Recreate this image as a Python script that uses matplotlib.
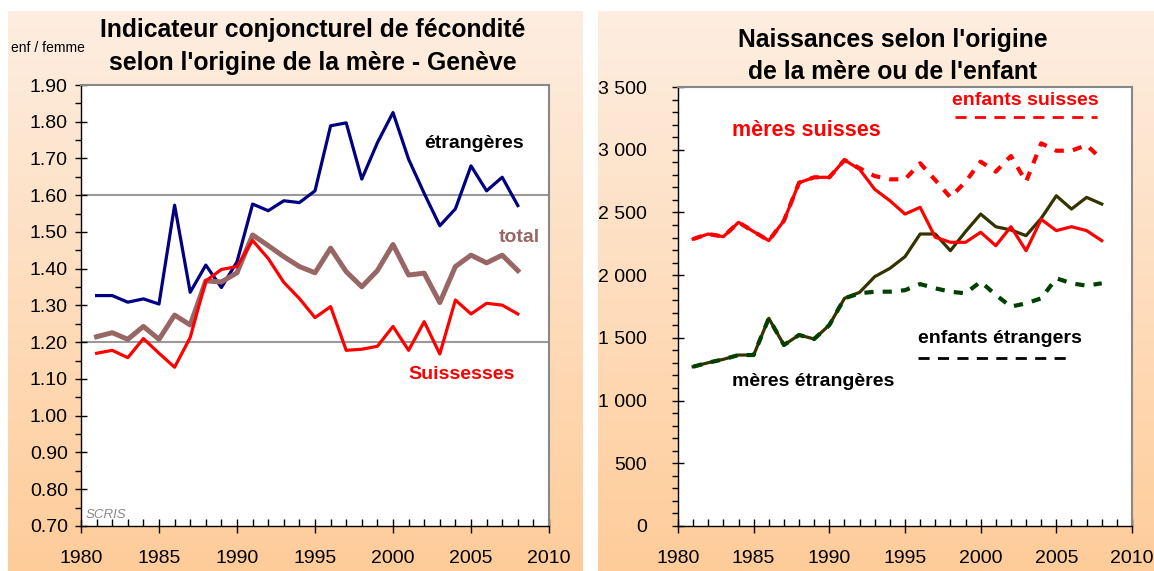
import numpy as np
import matplotlib
matplotlib.use("Agg")
import matplotlib.pyplot as plt
from matplotlib.ticker import MultipleLocator, FuncFormatter

plt.rcParams['font.family'] = ['Liberation Sans', 'DejaVu Sans']

years = np.arange(1981, 2009)

# ICF par origine de la mere (enfants par femme)
etrangeres = [1.327, 1.327, 1.309, 1.318, 1.304, 1.573, 1.336, 1.410, 1.349, 1.419,
              1.576, 1.558, 1.585, 1.580, 1.612, 1.789, 1.797, 1.644, 1.743, 1.825,
              1.698, 1.605, 1.517, 1.563, 1.680, 1.612, 1.649, 1.572]
total = [1.215, 1.226, 1.208, 1.243, 1.208, 1.274, 1.247, 1.367, 1.364, 1.389,
         1.492, 1.463, 1.433, 1.406, 1.389, 1.456, 1.392, 1.351, 1.395, 1.466,
         1.383, 1.388, 1.308, 1.406, 1.437, 1.416, 1.437, 1.395]
suissesses = [1.170, 1.178, 1.158, 1.210, 1.170, 1.132, 1.213, 1.367, 1.398, 1.406,
              1.477, 1.428, 1.363, 1.319, 1.267, 1.297, 1.178, 1.181, 1.189, 1.243,
              1.178, 1.256, 1.168, 1.315, 1.277, 1.306, 1.301, 1.277]

# Naissances
meres_suisses = [2288, 2328, 2307, 2421, 2347, 2275, 2434, 2737, 2780, 2780,
                 2918, 2844, 2684, 2594, 2487, 2541, 2302, 2262, 2262, 2342,
                 2235, 2386, 2195, 2445, 2355, 2386, 2355, 2275]
enfants_suisses = [2288, 2328, 2307, 2421, 2347, 2275, 2434, 2737, 2780, 2780,
                   2918, 2852, 2790, 2764, 2764, 2892, 2758, 2620, 2745, 2905,
                   2825, 2950, 2745, 3051, 2992, 2992, 3037, 2923]
meres_etrangeres = [1270, 1302, 1329, 1363, 1363, 1656, 1443, 1523, 1491, 1602,
                    1815, 1863, 1988, 2054, 2147, 2328, 2328, 2195, 2347, 2487,
                    2386, 2360, 2315, 2453, 2633, 2527, 2620, 2567]
enfants_etrangers = [1270, 1302, 1329, 1363, 1363, 1656, 1443, 1523, 1491, 1602,
                     1815, 1855, 1868, 1868, 1880, 1929, 1895, 1868, 1855, 1948,
                     1842, 1749, 1775, 1815, 1975, 1935, 1916, 1935]

W, H = 1154, 571
fig = plt.figure(figsize=(W / 100, H / 100), dpi=100)

# fonds degrades des deux panneaux
grad = np.linspace(0, 1, 256)[:, None]
top = np.array([253, 238, 225]) / 255
bot = np.array([255, 204, 153]) / 255
img = top[None, None, :] * (1 - grad[:, :, None]) + bot[None, None, :] * grad[:, :, None]
for x0, x1 in [(8, 582), (598, 1154)]:
    bg = fig.add_axes([x0 / W, 0, (x1 - x0) / W, (H - 11) / H], zorder=-10)
    bg.imshow(img, aspect='auto', extent=[0, 1, 0, 1])
    bg.axis('off')


def style_axes(ax, ypad):
    ax.set_facecolor('white')
    for s in ['top', 'right']:
        ax.spines[s].set_color('#888888')
        ax.spines[s].set_linewidth(1.5)
    for s in ['left', 'bottom']:
        ax.spines[s].set_color('black')
        ax.spines[s].set_linewidth(1.0)
    ax.set_xlim(1980, 2010)
    ax.xaxis.set_major_locator(MultipleLocator(5))
    ax.xaxis.set_minor_locator(MultipleLocator(1))
    ax.tick_params(axis='x', which='major', direction='inout', length=10, width=1,
                   labelsize=14, pad=12)
    ax.tick_params(axis='x', which='minor', direction='in', length=5, width=1)
    ax.tick_params(axis='y', which='major', direction='inout', length=9, width=1,
                   labelsize=14, pad=ypad)
    ax.tick_params(axis='y', which='minor', direction='out', length=4, width=1)


# ---- panneau gauche
ax1 = fig.add_axes([81 / W, (H - 526) / H, 468 / W, 441 / H])
style_axes(ax1, 5)
ax1.set_ylim(0.70, 1.90)
ax1.yaxis.set_major_locator(MultipleLocator(0.1))
ax1.yaxis.set_minor_locator(MultipleLocator(0.05))
ax1.yaxis.set_major_formatter(FuncFormatter(lambda v, p: f"{v:.2f}"))
for g in [1.2, 1.6]:
    ax1.axhline(g, color='#999999', lw=1.5, zorder=1)
ax1.plot(years, etrangeres, color='#000080', lw=2.3, zorder=3)
ax1.plot(years, total, color='#996666', lw=3.6, zorder=3)
ax1.plot(years, suissesses, color='#ff0000', lw=2.3, zorder=4)
ax1.text(2005.2, 1.742, 'étrangères', color='black', fontsize=14, fontweight='bold',
         ha='center', va='center')
ax1.text(2008.1, 1.484, 'total', color='#996666', fontsize=14, fontweight='bold',
         ha='center', va='center')
ax1.text(2004.4, 1.111, 'Suissesses', color='#ff0000', fontsize=14, fontweight='bold',
         ha='center', va='center')
ax1.text(1980.3, 0.713, 'SCRIS', color='#888888', fontsize=9.5, style='italic',
         ha='left', va='bottom')
fig.text(313 / W, 1 - 30 / H, 'Indicateur conjoncturel de fécondité', fontsize=17.8,
         fontweight='bold', ha='center', va='center')
fig.text(313 / W, 1 - 63 / H, "selon l'origine de la mère - Genève", fontsize=17.8,
         fontweight='bold', ha='center', va='center')
fig.text(48 / W, 1 - 48 / H, 'enf / femme', fontsize=10, ha='center', va='center')

# ---- panneau droit
ax2 = fig.add_axes([678 / W, (H - 526) / H, 454 / W, 439 / H])
style_axes(ax2, 18)
ax2.set_ylim(0, 3500)
ax2.yaxis.set_major_locator(MultipleLocator(500))
ax2.yaxis.set_minor_locator(MultipleLocator(100))
ax2.yaxis.set_major_formatter(FuncFormatter(lambda v, p: f"{int(v):,}".replace(',', ' ')))
ax2.plot(years, enfants_suisses, color='#ff0000', lw=3.0, ls=(0, (2.2, 2.2)), zorder=3)
ax2.plot(years, meres_suisses, color='#ff0000', lw=2.3, zorder=4)
ax2.plot(years, meres_etrangeres, color='#333300', lw=2.3, zorder=3)
ax2.plot(years, enfants_etrangers, color='#004000', lw=3.0, ls=(0, (2.2, 2.2)), zorder=4)

ax2.text(0.764, 0.970, 'enfants suisses', transform=ax2.transAxes, color='#ff0000',
         fontsize=14, fontweight='bold', ha='center', va='center')
ax2.plot([0.61, 0.923], [0.932, 0.932], transform=ax2.transAxes, color='#ff0000',
         lw=2.0, ls=(0, (4, 3)))
ax2.text(0.282, 0.902, 'mères suisses', transform=ax2.transAxes, color='#ff0000',
         fontsize=15.5, fontweight='bold', ha='center', va='center')
ax2.text(0.709, 0.426, 'enfants étrangers', transform=ax2.transAxes, color='black',
         fontsize=14, fontweight='bold', ha='center', va='center')
ax2.plot([0.529, 0.870], [0.383, 0.383], transform=ax2.transAxes, color='black',
         lw=2.0, ls=(0, (4, 3)))
ax2.text(0.297, 0.330, 'mères étrangères', transform=ax2.transAxes, color='black',
         fontsize=14, fontweight='bold', ha='center', va='center')
fig.text(893 / W, 1 - 40 / H, "Naissances selon l'origine", fontsize=17.8,
         fontweight='bold', ha='center', va='center')
fig.text(893 / W, 1 - 72 / H, "de la mère ou de l'enfant", fontsize=17.8,
         fontweight='bold', ha='center', va='center')

fig.savefig('out.png', dpi=100, facecolor='white')
